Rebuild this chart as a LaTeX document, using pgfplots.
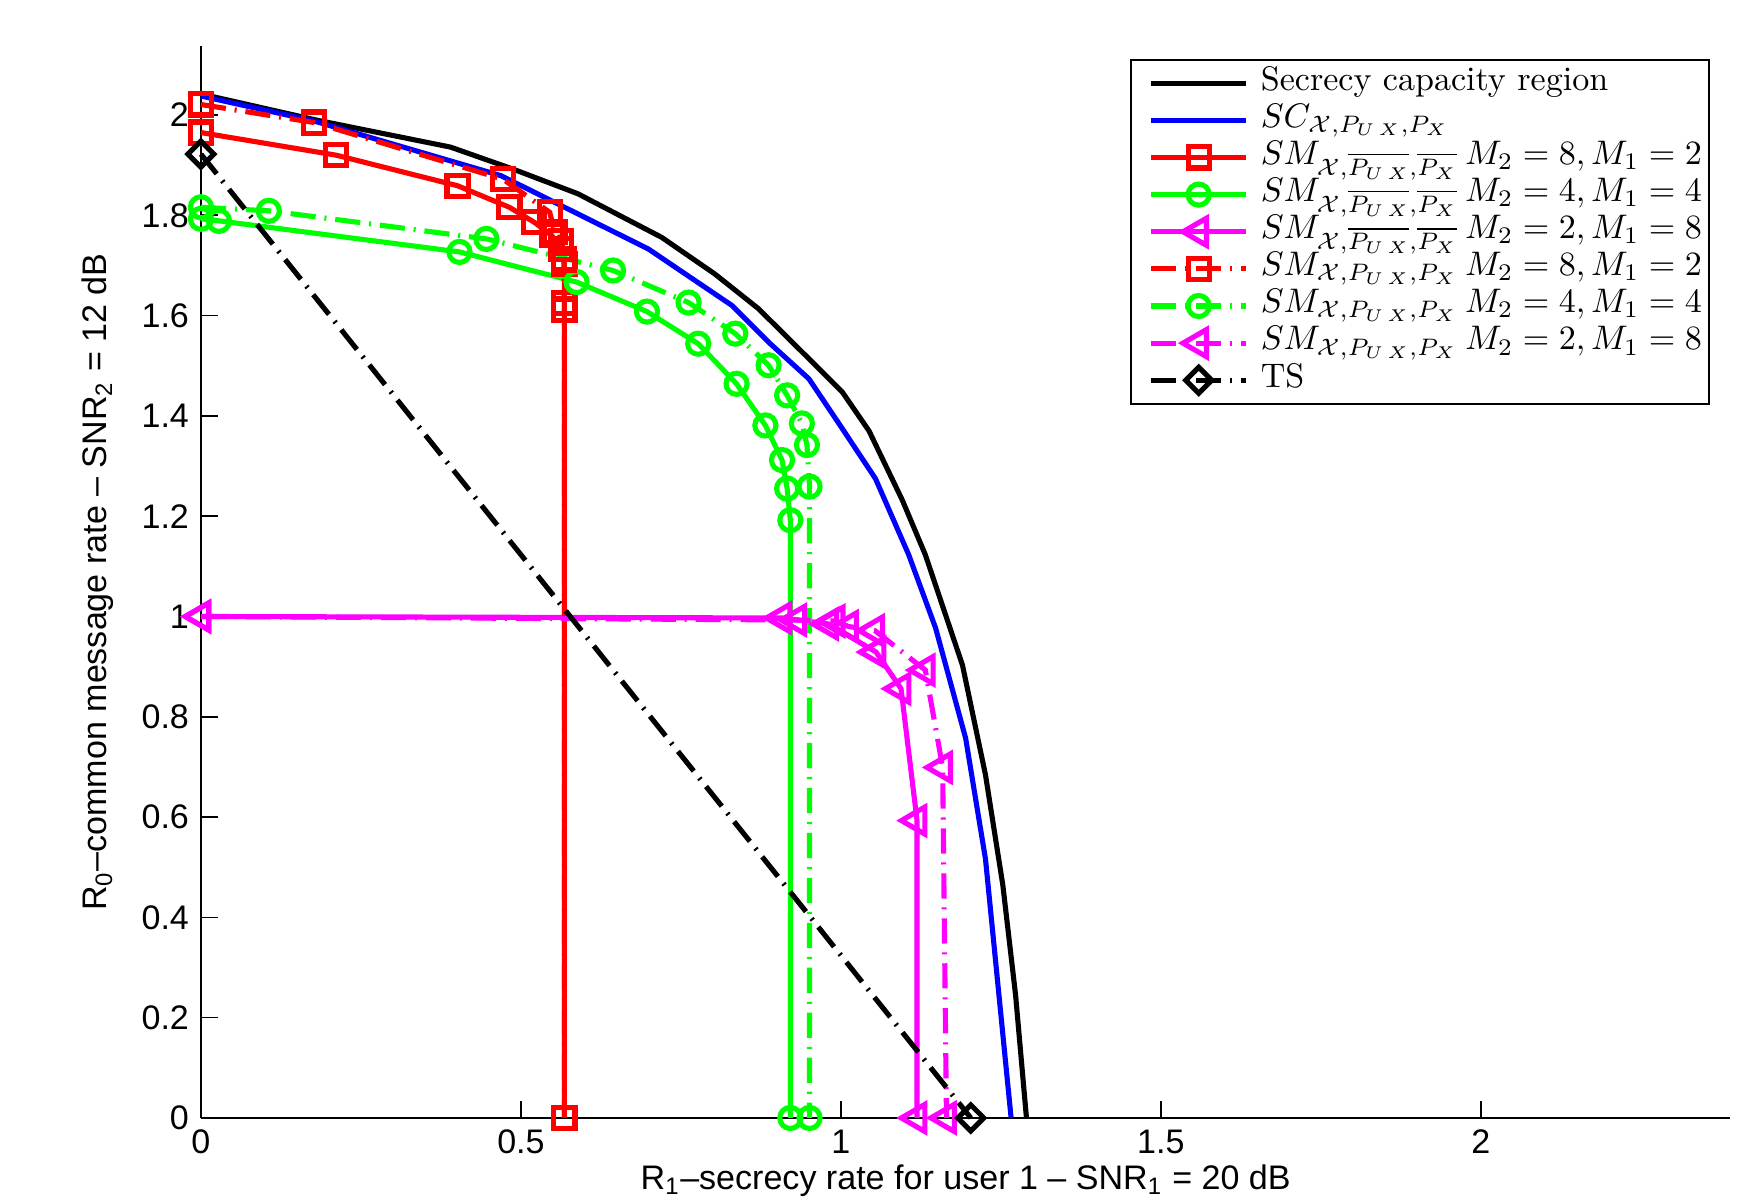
\documentclass[border=0pt]{standalone}
\usepackage{fontspec}
\setsansfont{Liberation Sans}
\usepackage{pgfplots}
\pgfplotsset{compat=1.18}
\usetikzlibrary{calc}

\definecolor{mred}{RGB}{255,0,0}
\definecolor{mgreen}{RGB}{0,255,0}
\definecolor{mblue}{RGB}{0,0,255}
\definecolor{mmag}{RGB}{255,0,255}
\tikzset{dashdot/.style={dash pattern=on 7.4pt off 2.6pt on 0.6pt off 2.6pt}}
\newcommand{\SMo}{\makebox[60pt][l]{$SM_{\mathcal{X},\overline{P_{U\,X}},\overline{P_X}}$}}
\newcommand{\SMp}{\makebox[60pt][l]{$SM_{\mathcal{X},P_{U\,X},P_X}$}}

\begin{document}
\begin{tikzpicture}
\begin{axis}[
  name=ax,
  width=449pt, height=314.6pt, scale only axis,
  xmin=0, xmax=2.39, ymin=0, ymax=2.137,
  axis lines=left, axis line style={-, line width=0.5pt},
  tick align=inside, major tick length=5pt,
  tick style={line width=0.5pt, black},
  xtick={0,0.5,1,1.5,2},
  ytick={0,0.2,0.4,0.6,0.8,1,1.2,1.4,1.6,1.8,2},
  /pgf/number format/assume math mode=true,
  tick label style={font=\sffamily\fontsize{10}{12}\selectfont},
  xlabel={R\textsubscript{1}–secrecy rate for user 1 – SNR\textsubscript{1} = 20 dB},
  ylabel={R\textsubscript{0}–common message rate – SNR\textsubscript{2} = 12 dB},
  xlabel style={at={(axis description cs:0.5,-0.0665)}, anchor=base, font=\sffamily\fontsize{10}{12}\selectfont},
  ylabel style={at={(axis description cs:-0.0615,0.5)}, anchor=base, font=\sffamily\fontsize{10}{12}\selectfont},
  clip=false,
  every axis plot/.append style={line width=1.5pt},
  legend image code/.code={
    \path (0pt,0pt) (34.5pt,0pt);
    \draw[mark repeat=2,mark phase=2] plot coordinates {(5pt,0pt)(19pt,0pt)(33pt,0pt)};},
  legend cell align=left,
  legend style={at={(axis description cs:0.9865,0.9886)}, anchor=north east,
    draw=black, line width=0.6pt, fill=white,
    font=\fontsize{10}{12}\selectfont,
    inner xsep=0pt, inner ysep=1.5pt,
    nodes={text height=7pt, text depth=3pt, inner ysep=0.45pt}},
]
% secrecy capacity region
\addplot[black, no marks] coordinates {
(0,2.042)(0.18,1.99)(0.39,1.936)(0.488,1.892)(0.589,1.843)(0.72,1.756)(0.803,1.683)
(0.871,1.614)(0.924,1.547)(1.002,1.448)(1.044,1.370)(1.096,1.232)
(1.132,1.123)(1.190,0.903)(1.226,0.684)(1.253,0.465)(1.273,0.245)(1.290,0)};
\addlegendentry{Secrecy capacity region}
\addplot[mblue, no marks] coordinates {
(0,2.038)(0.177,1.988)(0.469,1.879)(0.532,1.839)(0.699,1.733)(0.830,1.620)(0.887,1.547)
(0.950,1.474)(1.002,1.375)(1.054,1.275)(1.106,1.123)(1.148,0.977)(1.195,0.757)
(1.226,0.516)(1.247,0.245)(1.266,0)};
\addlegendentry{$SC_{\mathcal{X},P_{U\,X},P_X}$}
% overline versions
\addplot[mred, mark=square, mark size=3.1pt] coordinates {
(0,1.965)(0.211,1.920)(0.401,1.859)(0.482,1.816)(0.521,1.786)(0.548,1.760)
(0.563,1.733)(0.568,1.703)(0.568,1.625)(0.568,0)};
\addlegendentry{\SMo$M_2=8, M_1=2$}
\addplot[mgreen, mark=o, mark size=3.1pt] coordinates {
(0,1.793)(0.028,1.789)(0.404,1.727)(0.587,1.667)(0.697,1.608)(0.777,1.544)
(0.837,1.464)(0.882,1.381)(0.908,1.312)(0.916,1.255)(0.921,1.192)(0.921,0)};
\addlegendentry{\SMo$M_2=4, M_1=4$}
\addplot[mmag, mark=triangle, mark size=4.6pt, mark options={rotate=90}] coordinates {
(0,1.0)(0.908,0.997)(0.981,0.985)(1.055,0.929)(1.094,0.856)(1.119,0.593)(1.119,0)};
\addlegendentry{\SMo$M_2=2, M_1=8$}
% plain versions
\addplot[mred, dashdot, mark=square, mark size=3.1pt, mark options={solid}] coordinates {
(0,2.021)(0.177,1.985)(0.472,1.872)(0.545,1.806)(0.553,1.766)(0.563,1.748)
(0.567,1.712)(0.568,1.612)(0.568,0)};
\addlegendentry{\SMp$M_2=8, M_1=2$}
\addplot[mgreen, dashdot, mark=o, mark size=3.1pt, mark options={solid}] coordinates {
(0,1.816)(0.106,1.809)(0.446,1.753)(0.644,1.690)(0.762,1.626)(0.835,1.564)
(0.887,1.501)(0.916,1.441)(0.939,1.385)(0.947,1.342)(0.951,1.259)(0.951,0)};
\addlegendentry{\SMp$M_2=4, M_1=4$}
\addplot[mmag, dashdot, mark=triangle, mark size=4.6pt, mark options={solid, rotate=90}] coordinates {
(0,1.0)(0.931,0.993)(0.991,0.991)(1.012,0.980)(1.053,0.972)(1.132,0.893)(1.159,0.699)(1.165,0)};
\addlegendentry{\SMp$M_2=2, M_1=8$}
% time sharing
\addplot[black, dashdot, mark=square, mark size=2.7pt, mark options={solid, rotate=45}] coordinates {
(0,1.922)(1.203,0)};
\addlegendentry{TS}
\end{axis}
\pgfresetboundingbox
\path[use as bounding box] ($(ax.south west)+(-59pt,-23.2pt)$) rectangle ($(ax.south west)+(453pt,328.2pt)$);
\end{tikzpicture}
\end{document}
